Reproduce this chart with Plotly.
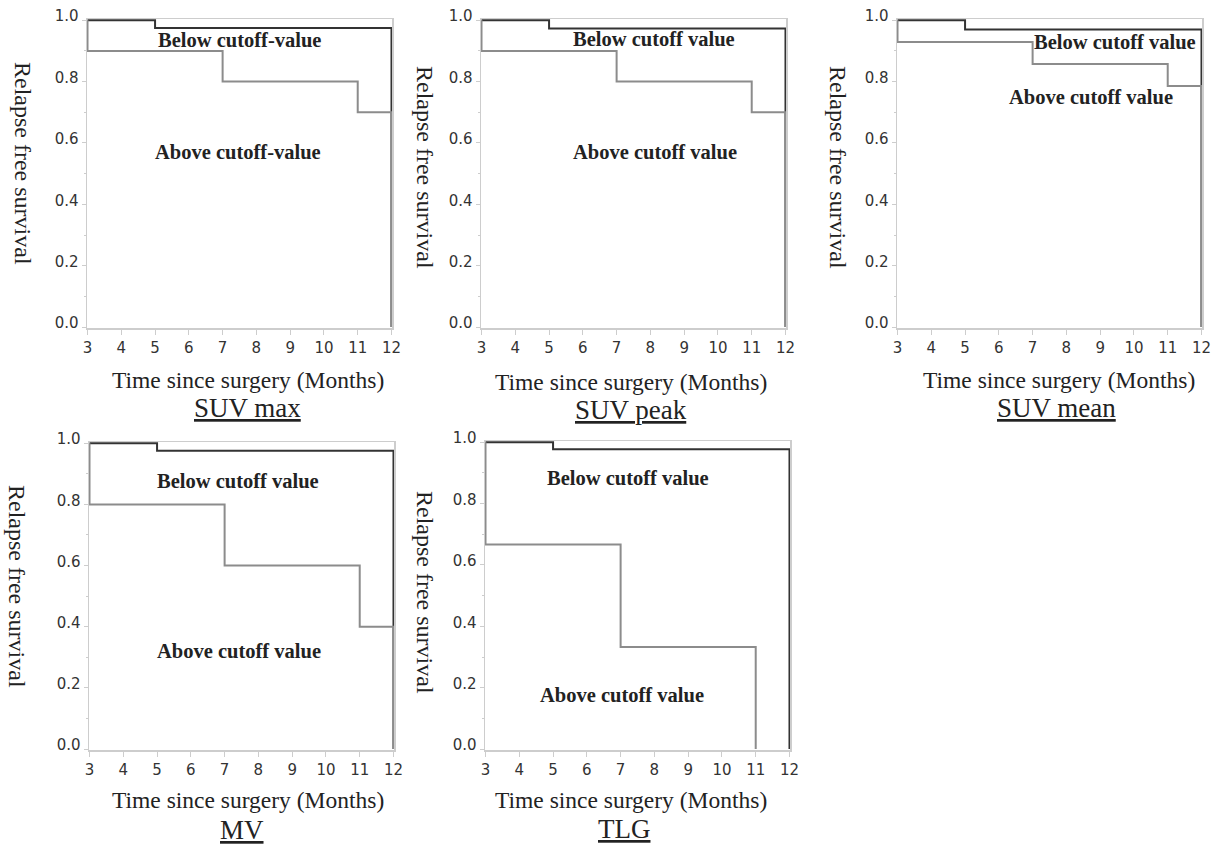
import plotly.graph_objects as go

W, H = 1224, 847

# ---------------- data ----------------
panel_names = ["SUV max", "SUV peak", "SUV mean", "MV", "TLG"]

suvmax_below_t = [3, 5, 12]
suvmax_below_s = [1.0, 0.975, 0.0]
suvmax_above_t = [3, 3, 7, 11, 12]
suvmax_above_s = [1.0, 0.9, 0.8, 0.7, 0.0]

suvpeak_below_t = [3, 5, 12]
suvpeak_below_s = [1.0, 0.973, 0.0]
suvpeak_above_t = [3, 3, 7, 11, 12]
suvpeak_above_s = [1.0, 0.9, 0.8, 0.7, 0.0]

suvmean_below_t = [3, 5, 12]
suvmean_below_s = [1.0, 0.97, 0.0]
suvmean_above_t = [3, 3, 7, 11, 12]
suvmean_above_s = [1.0, 0.929, 0.857, 0.786, 0.0]

mv_below_t = [3, 5, 12]
mv_below_s = [1.0, 0.975, 0.0]
mv_above_t = [3, 3, 7, 11, 12]
mv_above_s = [1.0, 0.8, 0.6, 0.4, 0.0]

tlg_below_t = [3, 5, 12]
tlg_below_s = [1.0, 0.977, 0.0]
tlg_above_t = [3, 3, 7, 11]
tlg_above_s = [1.0, 0.667, 0.333, 0.0]

below_labels = ["Below cutoff-value", "Below cutoff value", "Below cutoff value",
                "Below cutoff value", "Below cutoff value"]
above_labels = ["Above cutoff-value", "Above cutoff value", "Above cutoff value",
                "Above cutoff value", "Above cutoff value"]

x_ticks = [3, 4, 5, 6, 7, 8, 9, 10, 11, 12]
y_ticks = [0.0, 0.2, 0.4, 0.6, 0.8, 1.0]
y_tick_text = ["0.0", "0.2", "0.4", "0.6", "0.8", "1.0"]

below_series = [(suvmax_below_t, suvmax_below_s), (suvpeak_below_t, suvpeak_below_s),
                (suvmean_below_t, suvmean_below_s), (mv_below_t, mv_below_s),
                (tlg_below_t, tlg_below_s)]
above_series = [(suvmax_above_t, suvmax_above_s), (suvpeak_above_t, suvpeak_above_s),
                (suvmean_above_t, suvmean_above_s), (mv_above_t, mv_above_s),
                (tlg_above_t, tlg_above_s)]

# ---------------- layout geometry (page pixels) ----------------
boxes = [(87, 392, 19, 328), (481, 786, 19, 328), (897, 1202, 19, 328),
         (89, 394, 442, 750), (485, 790, 441, 750)]
below_pos = [(7.49, 0.935), (8.10, 0.94), (9.43, 0.93), (7.40, 0.877), (7.22, 0.884)]
above_pos = [(7.46, 0.57), (8.13, 0.57), (8.72, 0.749), (7.43, 0.321), (7.04, 0.176)]
ytitle_pos = [(23, 163), (425, 167), (838, 167), (17, 586), (425, 592)]
xtitle_pos = [(248, 380), (631, 382), (1059, 380), (248, 800), (631, 800)]
sub_pos = [(247, 408), (631, 410), (1056, 408), (242, 830), (624, 829)]


def fx(px):
    return px / W


def fy(py):
    return 1 - py / H


fig = go.Figure()
layout = dict(width=W, height=H, margin=dict(l=0, r=0, t=0, b=0, autoexpand=False),
              paper_bgcolor="white", plot_bgcolor="white", showlegend=False)
annotations = []

serif = "Liberation Serif"
frame_col = "#cdcdcd"
tick_font = dict(family="DejaVu Sans", size=15, color="#333")

for i in range(5):
    ax = "" if i == 0 else str(i + 1)
    l, r, t, b = boxes[i]
    xa = dict(domain=[fx(l), fx(r)], range=[2.985, 12.015], anchor="y" + ax,
              tickmode="array", tickvals=x_ticks, ticks="outside", ticklen=5,
              tickcolor=frame_col, tickwidth=1, automargin=False,
              showline=True, linecolor=frame_col, linewidth=1.5, mirror=True,
              showgrid=False, zeroline=False, tickfont=tick_font)
    ya = dict(domain=[fy(b), fy(t)], range=[-0.003, 1.004], anchor="x" + ax,
              tickmode="array", tickvals=y_ticks, ticktext=y_tick_text,
              ticks="outside", ticklen=4, tickcolor=frame_col, tickwidth=1, automargin=False,
              minor=dict(ticks="outside", ticklen=2, dtick=0.1, tick0=0, tickcolor=frame_col),
              showline=True, linecolor=frame_col, linewidth=1.5, mirror=True,
              showgrid=False, zeroline=False, ticklabelshift=-4, tickfont=tick_font)
    layout["xaxis" + ax] = xa
    layout["yaxis" + ax] = ya

    bt, bs = below_series[i]
    at, as_ = above_series[i]
    fig.add_trace(go.Scatter(x=bt, y=bs, mode="lines", line=dict(color="#333333", width=2, shape="hv"),
                             xaxis="x" + ax, yaxis="y" + ax, hoverinfo="skip"))
    fig.add_trace(go.Scatter(x=at, y=as_, mode="lines", line=dict(color="#8c8c8c", width=2, shape="hv"),
                             xaxis="x" + ax, yaxis="y" + ax, hoverinfo="skip"))

    annotations.append(dict(xref="x" + ax, yref="y" + ax, x=below_pos[i][0], y=below_pos[i][1],
                            text="<b>" + below_labels[i] + "</b>", showarrow=False,
                            font=dict(family=serif, size=20.5, color="#222"),
                            xanchor="center", yanchor="middle", borderpad=0))
    annotations.append(dict(xref="x" + ax, yref="y" + ax, x=above_pos[i][0], y=above_pos[i][1],
                            text="<b>" + above_labels[i] + "</b>", showarrow=False,
                            font=dict(family=serif, size=20.5, color="#222"),
                            xanchor="center", yanchor="middle", borderpad=0))
    px, py = ytitle_pos[i]
    annotations.append(dict(xref="paper", yref="paper", x=fx(px), y=fy(py),
                            text="Relapse free survival", textangle=90, showarrow=False,
                            font=dict(family=serif, size=24, color="#222"),
                            xanchor="center", yanchor="middle", borderpad=0))
    px, py = xtitle_pos[i]
    annotations.append(dict(xref="paper", yref="paper", x=fx(px), y=fy(py),
                            text="Time since surgery (Months)", showarrow=False,
                            font=dict(family=serif, size=23.5, color="#222"),
                            xanchor="center", yanchor="middle", borderpad=0))
    px, py = sub_pos[i]
    annotations.append(dict(xref="paper", yref="paper", x=fx(px), y=fy(py),
                            text="<u>" + panel_names[i] + "</u>", showarrow=False,
                            font=dict(family=serif, size=27, color="#222"),
                            xanchor="center", yanchor="middle", borderpad=0))

layout["annotations"] = annotations
fig.update_layout(**layout)
# remove the browser's default 8px body margin so the figure fills the window exactly
fig.write_html("out.html", config={"displayModeBar": False, "staticPlot": True},
               post_script="document.body.style.margin='0px';document.body.style.overflow='hidden';")
